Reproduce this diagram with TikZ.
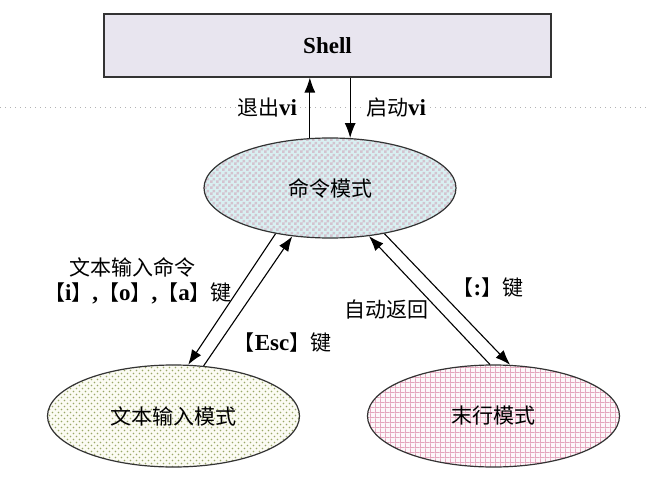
\documentclass[tikz,border=0pt]{standalone}
\usepackage{fontspec}
\setmainfont{Liberation Serif}
\newfontfamily\cjk{Noto Sans CJK SC}
\usetikzlibrary{shapes.geometric,arrows.meta,patterns}
\definecolor{shellfill}{HTML}{E8E5EF}
\definecolor{cmdbase}{HTML}{D9F0F2}
\definecolor{cmdpat}{HTML}{D3C3CF}
\definecolor{txtbase}{HTML}{FBFBF3}
\definecolor{txtpat}{HTML}{9AA868}
\definecolor{lastbase}{HTML}{FDF8FA}
\definecolor{lastpat}{HTML}{E4A6BD}
\definecolor{edge}{HTML}{333333}
\pgfdeclarepatternformonly{checker}{\pgfpointorigin}{\pgfpoint{6pt}{6pt}}{\pgfpoint{6pt}{6pt}}{%
  \pgfpathrectangle{\pgfpointorigin}{\pgfpoint{3pt}{3pt}}%
  \pgfpathrectangle{\pgfpoint{3pt}{3pt}}{\pgfpoint{3pt}{3pt}}%
  \pgfusepath{fill}}
\pgfdeclarepatternformonly{olivedots}{\pgfpoint{-1pt}{-1pt}}{\pgfpoint{7pt}{7pt}}{\pgfpoint{6pt}{6pt}}{%
  \pgfpathcircle{\pgfpoint{1.5pt}{1.5pt}}{0.85pt}%
  \pgfpathcircle{\pgfpoint{4.5pt}{4.5pt}}{0.85pt}%
  \pgfusepath{fill}}
\pgfdeclarepatternformonly{pinkgrid}{\pgfpointorigin}{\pgfpoint{5.3pt}{5.3pt}}{\pgfpoint{5.3pt}{5.3pt}}{%
  \pgfpathrectangle{\pgfpointorigin}{\pgfpoint{5.3pt}{1.1pt}}%
  \pgfpathrectangle{\pgfpointorigin}{\pgfpoint{1.1pt}{5.3pt}}%
  \pgfusepath{fill}}
\newcommand{\zh}[1]{{\cjk\fontsize{21}{25}\selectfont #1}}
\newcommand{\lt}[1]{{\bfseries\fontsize{23}{27}\selectfont #1}}
\begin{document}
\begin{tikzpicture}[x=1pt,y=-1pt,
  modebox/.style={ellipse, draw=edge, line width=1.2pt, minimum width=252pt, inner sep=0pt},
  lbl/.style={fill=white, inner sep=1pt, text=black},
  arr/.style={line width=1.1pt, -{Latex[length=15pt,width=11pt]}}]
\useasboundingbox (0,0) rectangle (647,489);
\fill[white] (0,0) rectangle (647,489);
\draw[gray!60, line width=1pt, dash pattern=on 1.2pt off 3.8pt] (0,108) -- (647,108);
\node[draw=edge, line width=1.1pt, fill=shellfill, minimum width=447pt, minimum height=63pt, inner sep=0pt] (shell) at (327.5,45.5) {\lt{Shell}};
\node[modebox, minimum height=100pt, preaction={fill=cmdbase}, pattern=checker, pattern color=cmdpat] (cmd) at (330,188) {\zh{命令模式}};
\node[modebox, minimum height=102pt, preaction={fill=txtbase}, pattern=olivedots, pattern color=txtpat] (txt) at (173.5,416) {\zh{文本输入模式}};
\node[modebox, minimum height=102pt, preaction={fill=lastbase}, pattern=pinkgrid, pattern color=lastpat] (last) at (493.5,416) {\zh{末行模式}};
\draw[arr] (cmd.112) -- (cmd.112 |- shell.south);
\draw[arr] (cmd.68 |- shell.south) -- (cmd.68);
\draw[arr] (cmd.220.5) -- (txt.74.8);
\draw[arr] (txt.59.1) -- (cmd.232.4);
\draw[arr] (cmd.320.8) -- (last.72.7);
\draw[arr] (last.94) -- (cmd.309.7);
\node[lbl] (quit) at (267,108) {\zh{退出}\lt{vi}};
\node[lbl] (start) at (396,108) {\zh{启动}\lt{vi}};
\node[inner sep=0pt] (l1) at (132.5,267) {\zh{文本输入命令}};
\node[inner sep=0pt] (l2) at (138,293) {\zh{【}\lt{i}\zh{】}\lt{,}\zh{【}\lt{o}\zh{】}\lt{,}\zh{【}\lt{a}\zh{】键}};
\node[inner sep=0pt] (esc) at (282.5,343) {\zh{【}\lt{Esc}\zh{】键}};
\node[inner sep=0pt] (auto) at (386,310) {\zh{自动返回}};
\node[inner sep=0pt] (colon) at (488,288) {\zh{【}\lt{:}\zh{】键}};
\end{tikzpicture}
\end{document}
